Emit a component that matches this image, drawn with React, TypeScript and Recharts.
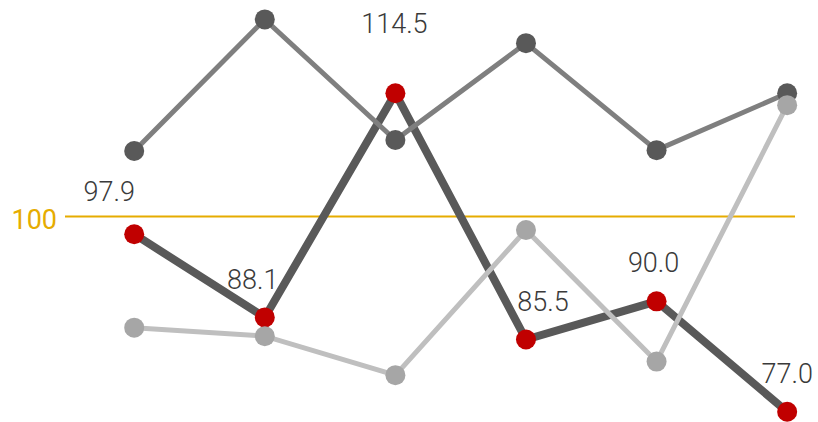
import React from 'react';
import { LineChart, Line, XAxis, YAxis, ReferenceLine, LabelList } from 'recharts';

// six periods, no visible axis labels
const periods = [0, 1, 2, 3, 4, 5];
const mainSeries = [97.9, 88.1, 114.5, 85.5, 90.0, 77.0];
const upperSeries = [107.7, 123.2, 109.0, 120.4, 107.8, 114.5];
const lowerSeries = [86.9, 85.9, 81.3, 98.4, 82.9, 113.1];
const baseline = 100;

// per-point nudges for the value labels (text centre relative to dot)
const labelNudge = [
    [-25, -42],
    [-12, -37],
    [-1, -69],
    [17, -38],
    [-3, -38],
    [0, -38],
];

const data = periods.map((p, i) => ({
    x: p,
    main: mainSeries[i],
    upper: upperSeries[i],
    lower: lowerSeries[i],
}));

const FONT = 'Roboto, "Open Sans", sans-serif';

const ValueLabel = (props: any) => {
    const { x, y, value, index } = props;
    const [dx, dy] = labelNudge[index] || [0, -38];
    return (
        <text
            x={x + dx}
            y={y + dy}
            textAnchor="middle"
            dominantBaseline="central"
            fontFamily={FONT}
            fontWeight={300}
            fontSize={27}
            fill="#3a3a3a"
        >
            {Number(value).toFixed(1)}
        </text>
    );
};

export default function App() {
    return (
        <div style={{ width: 818, height: 422 }}>
            <style>{'body{margin:0}'}</style>
            <LineChart
                width={818}
                height={422}
                data={data}
                margin={{ top: 12.6, right: 23, bottom: 10.3, left: 65 }}
            >
                <XAxis dataKey="x" type="number" domain={[-0.53, 5.06]} hide />
                <YAxis domain={[77, 124]} hide />
                <ReferenceLine
                    y={baseline}
                    stroke="#E6AC00"
                    strokeWidth={2}
                    label={{
                        value: String(baseline),
                        position: 'left',
                        offset: 8,
                        fill: '#E6AC00',
                        fontSize: 27,
                        fontFamily: FONT,
                        fontWeight: 400,
                        dy: 3,
                    }}
                />
                <Line
                    dataKey="main"
                    stroke="#595959"
                    strokeWidth={8}
                    dot={{ r: 10, fill: '#C00000', stroke: 'none' }}
                    activeDot={false}
                    isAnimationActive={false}
                >
                    <LabelList dataKey="main" content={<ValueLabel />} />
                </Line>
                <Line
                    dataKey="upper"
                    stroke="#7F7F7F"
                    strokeWidth={5}
                    dot={{ r: 10, fill: '#595959', stroke: 'none' }}
                    activeDot={false}
                    isAnimationActive={false}
                />
                <Line
                    dataKey="lower"
                    stroke="#BFBFBF"
                    strokeWidth={5}
                    dot={{ r: 10, fill: '#A6A6A6', stroke: 'none' }}
                    activeDot={false}
                    isAnimationActive={false}
                />
            </LineChart>
        </div>
    );
}
